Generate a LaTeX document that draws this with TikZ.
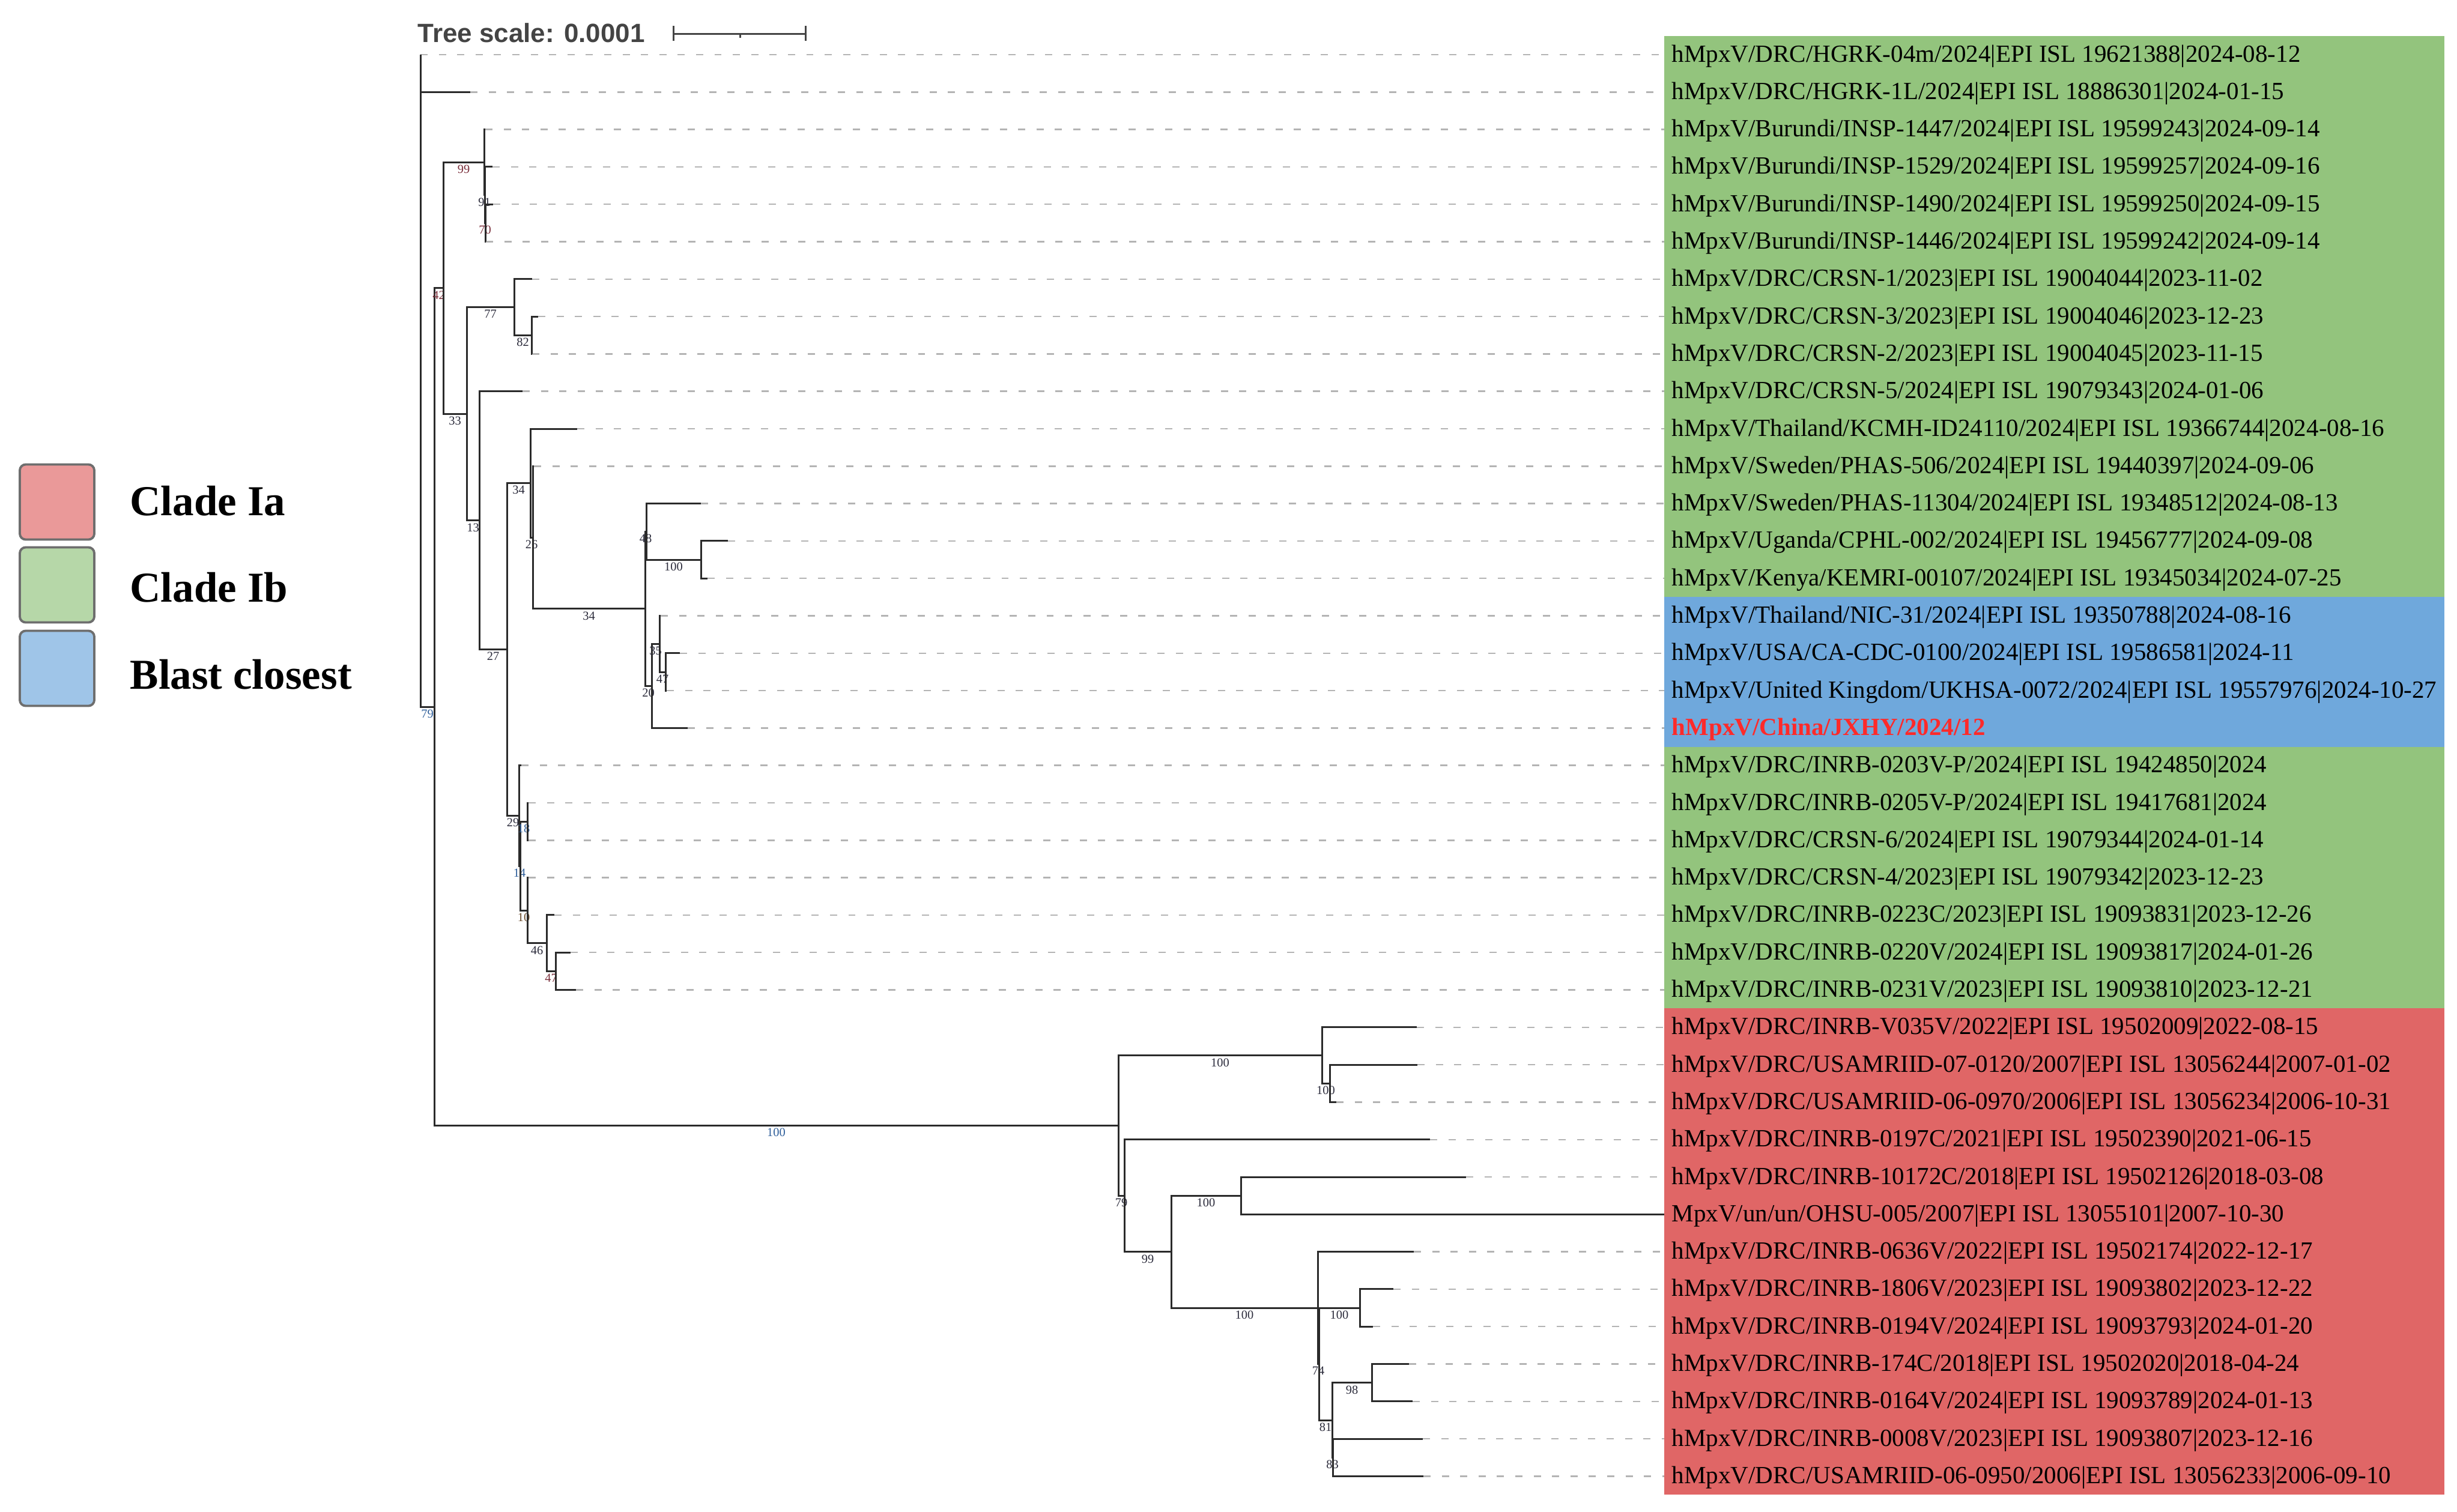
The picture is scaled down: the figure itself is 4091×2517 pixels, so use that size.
\documentclass[tikz,border=0pt]{standalone}
\usepackage{fontspec}
\setmainfont{Liberation Serif}
\newfontfamily\arialf{Liberation Sans}
\usetikzlibrary{calc}
\definecolor{gbox}{HTML}{93C47D}
\definecolor{bbox}{HTML}{6FA8DC}
\definecolor{rbox}{HTML}{E06666}
\definecolor{lgred}{HTML}{EA9999}
\definecolor{lggreen}{HTML}{B6D7A8}
\definecolor{lgblue}{HTML}{9FC5E8}
\definecolor{lgdraw}{HTML}{6E6E6E}
\definecolor{treecol}{HTML}{2A2A2A}
\definecolor{dashcol}{HTML}{B4B4B4}
\definecolor{bsdark}{HTML}{2B2B3B}
\definecolor{bsblue}{HTML}{2E5E9A}
\definecolor{bsred}{HTML}{7A2E3A}
\definecolor{bsbrown}{HTML}{6A4A2A}
\definecolor{chinared}{HTML}{FF2A2A}
\definecolor{scalegray}{HTML}{444444}
\newcommand\mylabfont{\fontsize{11.67pt}{14pt}\selectfont}
\newcommand\mybsfont{\fontsize{5.8pt}{7pt}\selectfont}
\newcommand\mylegfont{\bfseries\fontsize{20.2pt}{24pt}\selectfont}
\newcommand\pedge[2]{\draw[br] (#1) |- (#2);}
\newcommand\bedge[4]{\draw[br] (#1) |- (#2);
  \node[bs,text=#4] (L-#2) at ($(#1|-#2)!0.5!(#2)$) {#3};}
\newcommand\leaf[4]{\coordinate (p#1) at (#2,#3);
  \coordinate (e#1) at (2771,#3);
  \draw[dsh] (p#1) -- (e#1);
  \node[lab] (t#1) at (2783,#3+12) {#4};}
\tikzset{
  br/.style={line width=0.85pt, draw=treecol},
  dsh/.style={line width=0.7pt, draw=dashcol, dash pattern=on 3.4pt off 5.3pt},
  bs/.style={font=\mybsfont, anchor=north, inner sep=0pt, yshift=-1.2pt},
  lab/.style={anchor=base west, inner sep=0pt, font=\mylabfont, text=black},
  legbox/.style={draw=lgdraw, line width=1.1pt, rounded corners=2.8pt,
    minimum width=1.24cm, minimum height=1.25cm, inner sep=0pt},
  legtxt/.style={anchor=base west, inner sep=0pt, font=\mylegfont, text=black}
}
\begin{document}
\begin{tikzpicture}[x=0.01cm, y=-0.01cm]
\useasboundingbox (0,0) rectangle (4091,2517);
% coloured label backgrounds
\fill[gbox] (2771,60) rectangle (4070,994);
\fill[bbox] (2771,994) rectangle (4070,1244);
\fill[gbox] (2771,1244) rectangle (4070,1679);
\fill[rbox] (2771,1679) rectangle (4070,2489);
% leaves
\leaf{0}{700}{91}{hMpxV/DRC/HGRK-04m/2024|EPI ISL 19621388|2024-08-12}
\leaf{1}{783}{153.3}{hMpxV/DRC/HGRK-1L/2024|EPI ISL 18886301|2024-01-15}
\leaf{2}{808}{215.6}{hMpxV/Burundi/INSP-1447/2024|EPI ISL 19599243|2024-09-14}
\leaf{3}{820}{277.9}{hMpxV/Burundi/INSP-1529/2024|EPI ISL 19599257|2024-09-16}
\leaf{4}{821}{340.2}{hMpxV/Burundi/INSP-1490/2024|EPI ISL 19599250|2024-09-15}
\leaf{5}{809}{402.5}{hMpxV/Burundi/INSP-1446/2024|EPI ISL 19599242|2024-09-14}
\leaf{6}{886}{464.8}{hMpxV/DRC/CRSN-1/2023|EPI ISL 19004044|2023-11-02}
\leaf{7}{896}{527.1}{hMpxV/DRC/CRSN-3/2023|EPI ISL 19004046|2023-12-23}
\leaf{8}{886}{589.4}{hMpxV/DRC/CRSN-2/2023|EPI ISL 19004045|2023-11-15}
\leaf{9}{870}{651.7}{hMpxV/DRC/CRSN-5/2024|EPI ISL 19079343|2024-01-06}
\leaf{10}{961}{714}{hMpxV/Thailand/KCMH-ID24110/2024|EPI ISL 19366744|2024-08-16}
\leaf{11}{889}{776.3}{hMpxV/Sweden/PHAS-506/2024|EPI ISL 19440397|2024-09-06}
\leaf{12}{1167}{838.6}{hMpxV/Sweden/PHAS-11304/2024|EPI ISL 19348512|2024-08-13}
\leaf{13}{1212}{900.9}{hMpxV/Uganda/CPHL-002/2024|EPI ISL 19456777|2024-09-08}
\leaf{14}{1178}{963.2}{hMpxV/Kenya/KEMRI-00107/2024|EPI ISL 19345034|2024-07-25}
\leaf{15}{1100}{1025.5}{hMpxV/Thailand/NIC-31/2024|EPI ISL 19350788|2024-08-16}
\leaf{16}{1132}{1087.8}{hMpxV/USA/CA-CDC-0100/2024|EPI ISL 19586581|2024-11}
\leaf{17}{1110}{1150.1}{hMpxV/United Kingdom/UKHSA-0072/2024|EPI ISL 19557976|2024-10-27}
\leaf{18}{1145}{1212.4}{{\bfseries\color{chinared}hMpxV/China/JXHY/2024/12}}
\leaf{19}{868}{1274.7}{hMpxV/DRC/INRB-0203V-P/2024|EPI ISL 19424850|2024}
\leaf{20}{880}{1337}{hMpxV/DRC/INRB-0205V-P/2024|EPI ISL 19417681|2024}
\leaf{21}{880}{1399.3}{hMpxV/DRC/CRSN-6/2024|EPI ISL 19079344|2024-01-14}
\leaf{22}{880}{1461.6}{hMpxV/DRC/CRSN-4/2023|EPI ISL 19079342|2023-12-23}
\leaf{23}{923}{1523.9}{hMpxV/DRC/INRB-0223C/2023|EPI ISL 19093831|2023-12-26}
\leaf{24}{950}{1586.2}{hMpxV/DRC/INRB-0220V/2024|EPI ISL 19093817|2024-01-26}
\leaf{25}{959}{1648.5}{hMpxV/DRC/INRB-0231V/2023|EPI ISL 19093810|2023-12-21}
\leaf{26}{2359}{1710.8}{hMpxV/DRC/INRB-V035V/2022|EPI ISL 19502009|2022-08-15}
\leaf{27}{2360}{1773.1}{hMpxV/DRC/USAMRIID-07-0120/2007|EPI ISL 13056244|2007-01-02}
\leaf{28}{2225}{1835.4}{hMpxV/DRC/USAMRIID-06-0970/2006|EPI ISL 13056234|2006-10-31}
\leaf{29}{2381}{1897.7}{hMpxV/DRC/INRB-0197C/2021|EPI ISL 19502390|2021-06-15}
\leaf{30}{2441}{1960}{hMpxV/DRC/INRB-10172C/2018|EPI ISL 19502126|2018-03-08}
\leaf{31}{2771}{2022.3}{MpxV/un/un/OHSU-005/2007|EPI ISL 13055101|2007-10-30}
\leaf{32}{2354}{2084.6}{hMpxV/DRC/INRB-0636V/2022|EPI ISL 19502174|2022-12-17}
\leaf{33}{2320}{2146.9}{hMpxV/DRC/INRB-1806V/2023|EPI ISL 19093802|2023-12-22}
\leaf{34}{2286}{2209.2}{hMpxV/DRC/INRB-0194V/2024|EPI ISL 19093793|2024-01-20}
\leaf{35}{2346}{2271.5}{hMpxV/DRC/INRB-174C/2018|EPI ISL 19502020|2018-04-24}
\leaf{36}{2352}{2333.8}{hMpxV/DRC/INRB-0164V/2024|EPI ISL 19093789|2024-01-13}
\leaf{37}{2369}{2396.1}{hMpxV/DRC/INRB-0008V/2023|EPI ISL 19093807|2023-12-16}
\leaf{38}{2370}{2458.4}{hMpxV/DRC/USAMRIID-06-0950/2006|EPI ISL 13056233|2006-09-10}
% internal nodes
\coordinate (R) at (700,634);
\coordinate (n79) at (723,1177);
\coordinate (n42) at (738,479.6);
\coordinate (n99) at (806,270.1);
\coordinate (n91) at (807,324.6);
\coordinate (n70) at (808,371.4);
\coordinate (n33) at (777,689.1);
\coordinate (n77) at (856,511.5);
\coordinate (n82) at (885,558.3);
\coordinate (n13) at (798,866.6);
\coordinate (n27) at (844,1081.5);
\coordinate (n34a) at (883,804.5);
\coordinate (n26) at (887,895.1);
\coordinate (n34b) at (1074,1013.8);
\coordinate (n48) at (1076,885.3);
\coordinate (n100u) at (1167,932.1);
\coordinate (n20) at (1085,1142.3);
\coordinate (n35) at (1098,1072.3);
\coordinate (n47) at (1108,1119);
\coordinate (n29) at (864,1358.4);
\coordinate (n14) at (866,1442.2);
\coordinate (n18) at (878,1368.2);
\coordinate (n10) at (878,1516.1);
\coordinate (n46) at (910,1570.6);
\coordinate (n47b) at (925,1617.4);
\coordinate (nIa) at (1862,1874.4);
\coordinate (n100a) at (2201,1757.6);
\coordinate (n100b) at (2214,1804.3);
\coordinate (n79b) at (1872,1991.2);
\coordinate (n99b) at (1950,2084.7);
\coordinate (n100c) at (2066,1991.2);
\coordinate (n100d) at (2194,2178.1);
\coordinate (n74) at (2196,2271.6);
\coordinate (n100e) at (2264,2178.1);
\coordinate (n81) at (2218,2365);
\coordinate (n98) at (2284,2302.7);
\coordinate (n83) at (2219,2427.3);
% branches
\pedge{R}{p0} \pedge{R}{p1}
\bedge{R}{n79}{79}{bsblue}
\bedge{n79}{n42}{42}{bsred}
\bedge{n42}{n99}{99}{bsred}
\pedge{n99}{p2}
\bedge{n99}{n91}{91}{bsdark}
\pedge{n91}{p3}
\bedge{n91}{n70}{70}{bsred}
\pedge{n70}{p4} \pedge{n70}{p5}
\bedge{n42}{n33}{33}{bsdark}
\bedge{n33}{n77}{77}{bsdark}
\pedge{n77}{p6}
\bedge{n77}{n82}{82}{bsdark}
\pedge{n82}{p7} \pedge{n82}{p8}
\bedge{n33}{n13}{13}{bsdark}
\pedge{n13}{p9}
\bedge{n13}{n27}{27}{bsdark}
\bedge{n27}{n34a}{34}{bsdark}
\pedge{n34a}{p10}
\bedge{n34a}{n26}{26}{bsdark}
\pedge{n26}{p11}
\bedge{n26}{n34b}{34}{bsdark}
\bedge{n34b}{n48}{48}{bsdark}
\pedge{n48}{p12}
\bedge{n48}{n100u}{100}{bsdark}
\pedge{n100u}{p13} \pedge{n100u}{p14}
\bedge{n34b}{n20}{20}{bsdark}
\bedge{n20}{n35}{35}{bsdark}
\pedge{n35}{p15}
\bedge{n35}{n47}{47}{bsdark}
\pedge{n47}{p16} \pedge{n47}{p17}
\pedge{n20}{p18}
\bedge{n27}{n29}{29}{bsdark}
\pedge{n29}{p19}
\bedge{n29}{n14}{14}{bsblue}
\bedge{n14}{n18}{18}{bsblue}
\pedge{n18}{p20} \pedge{n18}{p21}
\bedge{n14}{n10}{10}{bsbrown}
\pedge{n10}{p22}
\bedge{n10}{n46}{46}{bsdark}
\pedge{n46}{p23}
\bedge{n46}{n47b}{47}{bsred}
\pedge{n47b}{p24} \pedge{n47b}{p25}
\bedge{n79}{nIa}{100}{bsblue}
\bedge{nIa}{n100a}{100}{bsdark}
\pedge{n100a}{p26}
\bedge{n100a}{n100b}{100}{bsdark}
\pedge{n100b}{p27} \pedge{n100b}{p28}
\bedge{nIa}{n79b}{79}{bsdark}
\pedge{n79b}{p29}
\bedge{n79b}{n99b}{99}{bsdark}
\bedge{n99b}{n100c}{100}{bsdark}
\pedge{n100c}{p30} \pedge{n100c}{p31}
\bedge{n99b}{n100d}{100}{bsdark}
\pedge{n100d}{p32}
\bedge{n100d}{n74}{74}{bsdark}
\bedge{n74}{n100e}{100}{bsdark}
\pedge{n100e}{p33} \pedge{n100e}{p34}
\bedge{n74}{n81}{81}{bsdark}
\bedge{n81}{n98}{98}{bsdark}
\pedge{n98}{p35} \pedge{n98}{p36}
\bedge{n81}{n83}{83}{bsdark}
\pedge{n83}{p37} \pedge{n83}{p38}
% tree scale
\node[anchor=base west, inner sep=0pt, text=scalegray,
  font=\arialf\bfseries\fontsize{12.5pt}{15pt}\selectfont] (tscale) at (695,70) {Tree scale: 0.0001};
\coordinate (sbL) at (1121,56);
\coordinate (sbR) at (1341,56);
\coordinate (sbM) at (1232,56);
\draw[scalegray, line width=0.85pt] (sbL) -- (sbR);
\draw[scalegray, line width=0.85pt] ($(sbL)+(0,-13)$) -- ($(sbL)+(0,12)$);
\draw[scalegray, line width=0.85pt] ($(sbR)+(0,-13)$) -- ($(sbR)+(0,12)$);
\draw[scalegray, line width=0.85pt] (sbM) -- ($(sbM)+(0,7)$);
% legend
\node[legbox, fill=lgred] (lgA) at (95,836) {};
\node[legbox, fill=lggreen] (lgB) at (95,974) {};
\node[legbox, fill=lgblue] (lgC) at (95,1113) {};
\node[legtxt] (lgtA) at (216,858) {Clade Ia};
\node[legtxt] (lgtB) at (216,1002) {Clade Ib};
\node[legtxt] (lgtC) at (216,1147) {Blast closest};
\end{tikzpicture}
\end{document}
